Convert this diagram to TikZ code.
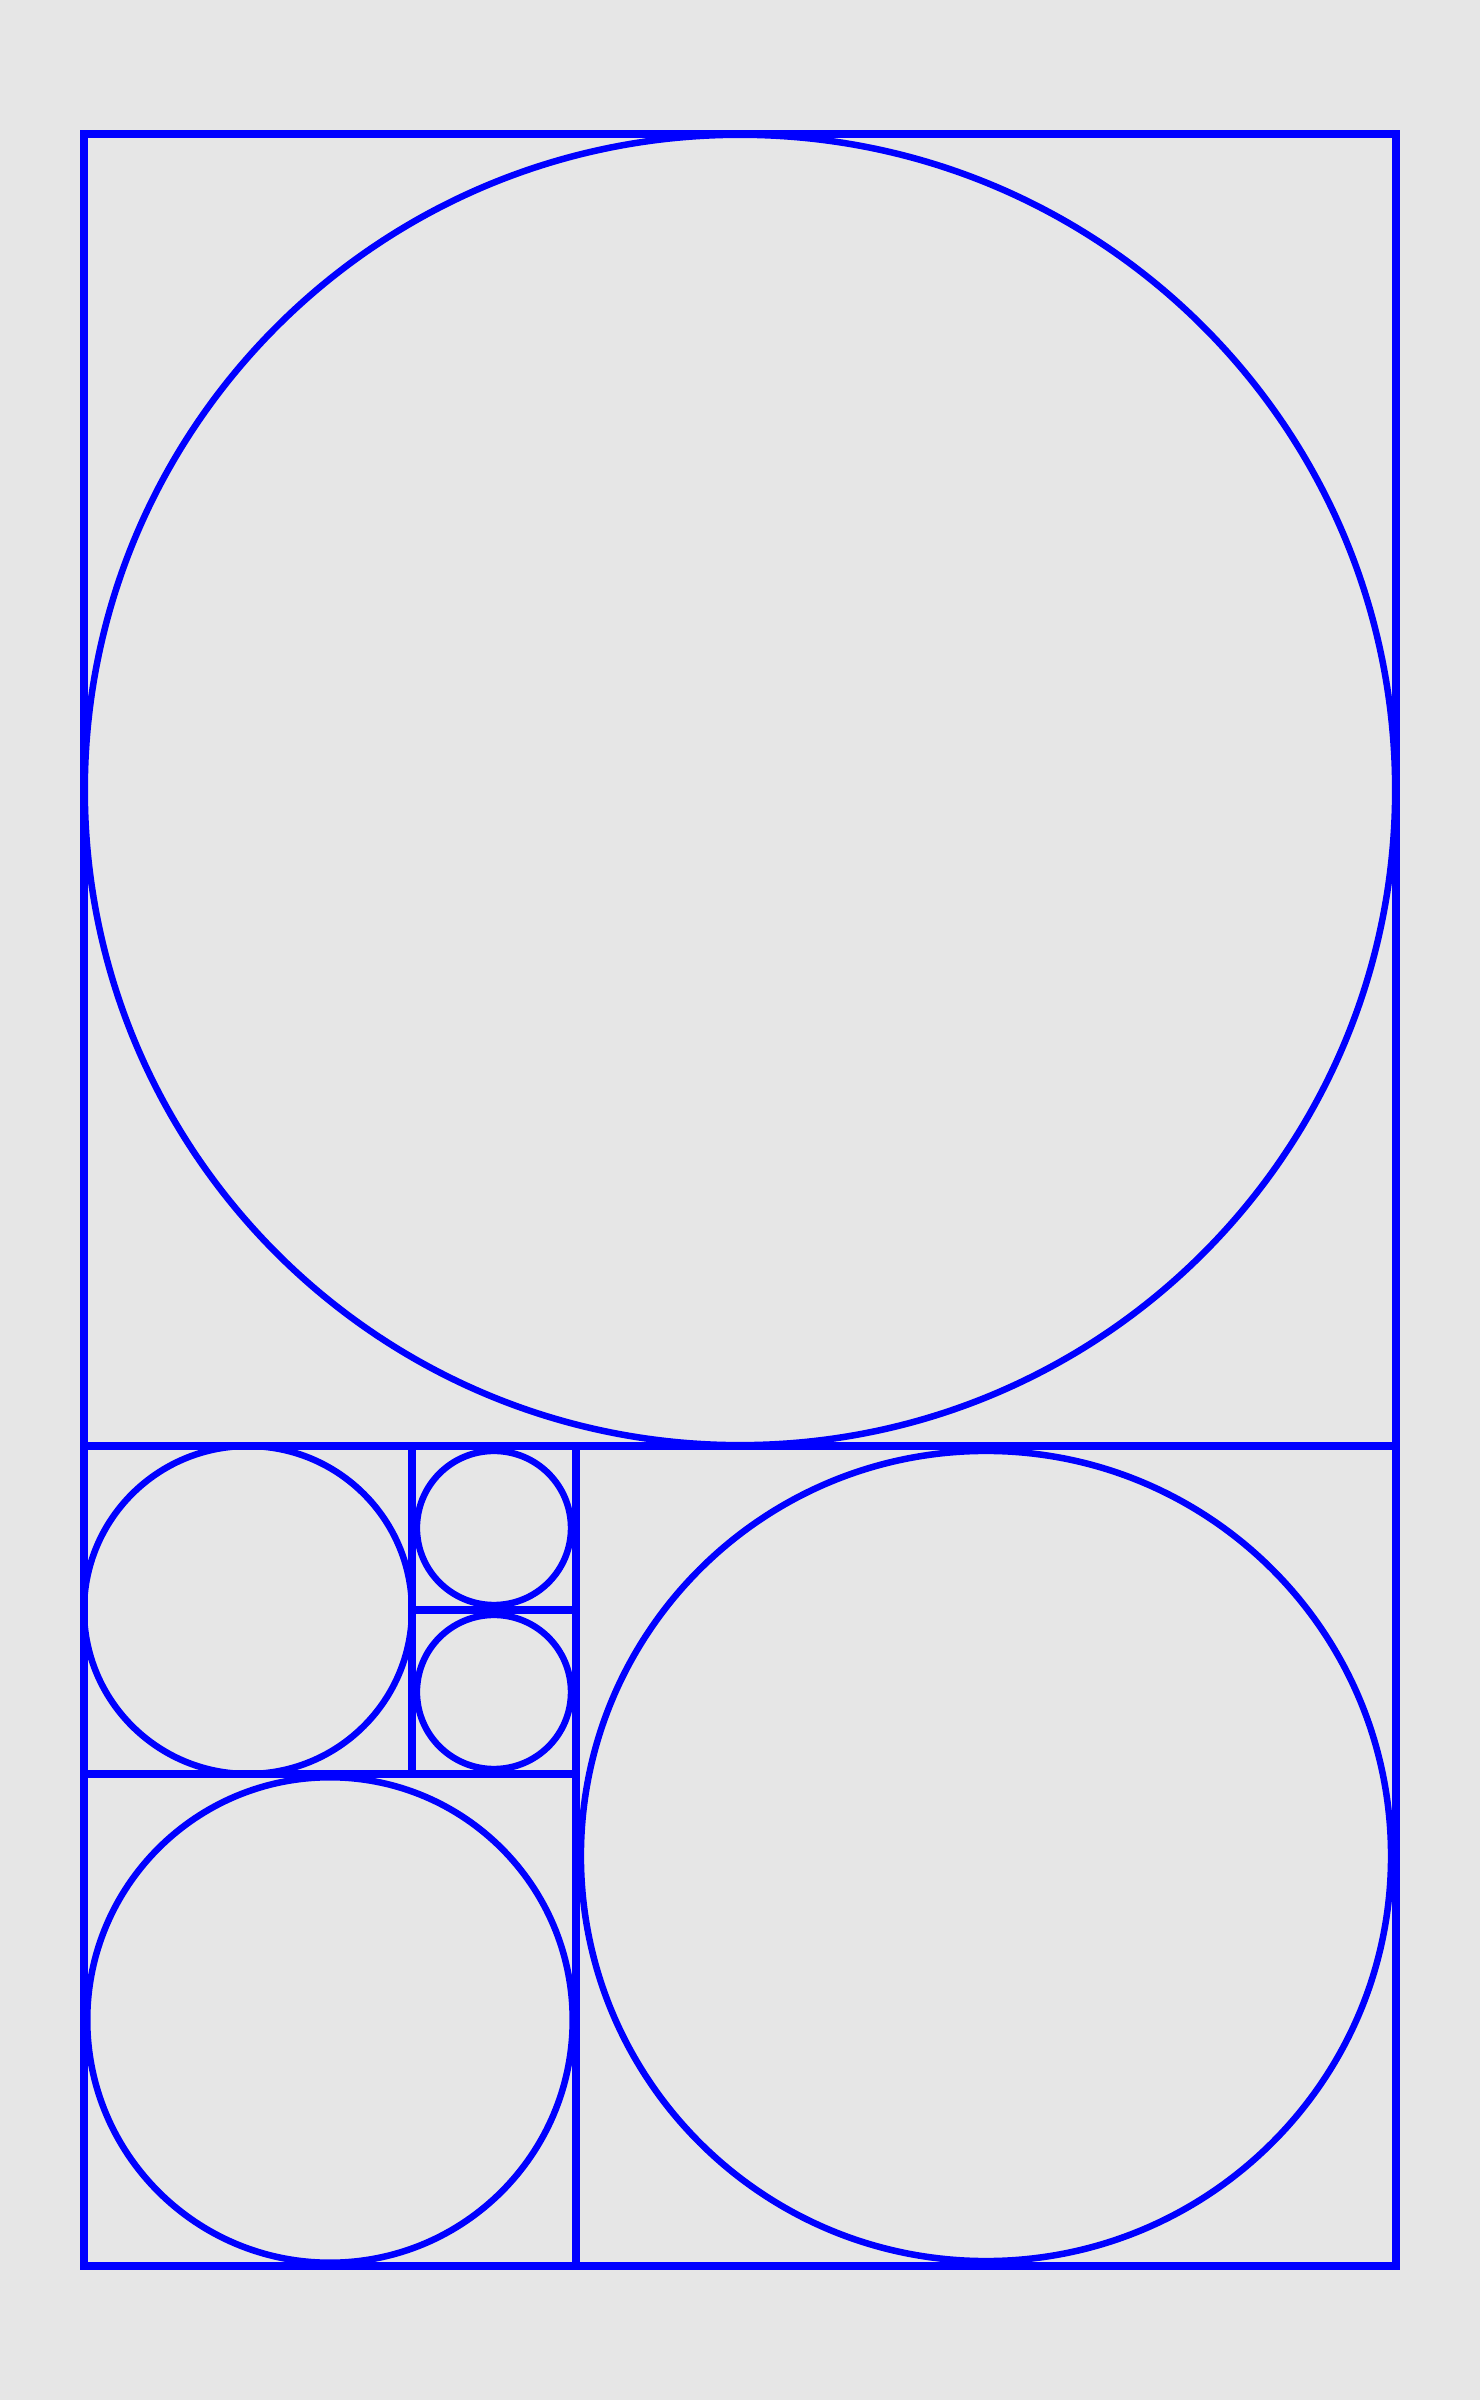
\documentclass[tikz,border=0pt]{standalone}
\definecolor{bgc}{RGB}{230,230,230}
\definecolor{bl}{RGB}{0,0,255}
\begin{document}
\begin{tikzpicture}[
  sq/.style={draw=bl, line width=1.39pt, line join=miter},
  circ/.style={draw=bl, line width=1.13pt}]
\fill[bgc] (-0.512,-0.817) rectangle (8.512,13.817);
\useasboundingbox (-0.512,-0.817) rectangle (8.512,13.817);
% squares
\draw[sq] (0,5) rectangle (8,13);
\draw[sq] (3,0) rectangle (8,5);
\draw[sq] (0,0) rectangle (3,3);
\draw[sq] (0,3) rectangle (2,5);
\draw[sq] (2,4) rectangle (3,5);
\draw[sq] (2,3) rectangle (3,4);
% circles
\draw[circ] (4,9) circle (3.995);
\draw[circ] (5.5,2.5) circle (2.47);
\draw[circ] (1.5,1.5) circle (1.48);
\draw[circ] (1,4) circle (1.0);
\draw[circ] (2.5,4.5) circle (0.47);
\draw[circ] (2.5,3.5) circle (0.47);
\end{tikzpicture}
\end{document}
